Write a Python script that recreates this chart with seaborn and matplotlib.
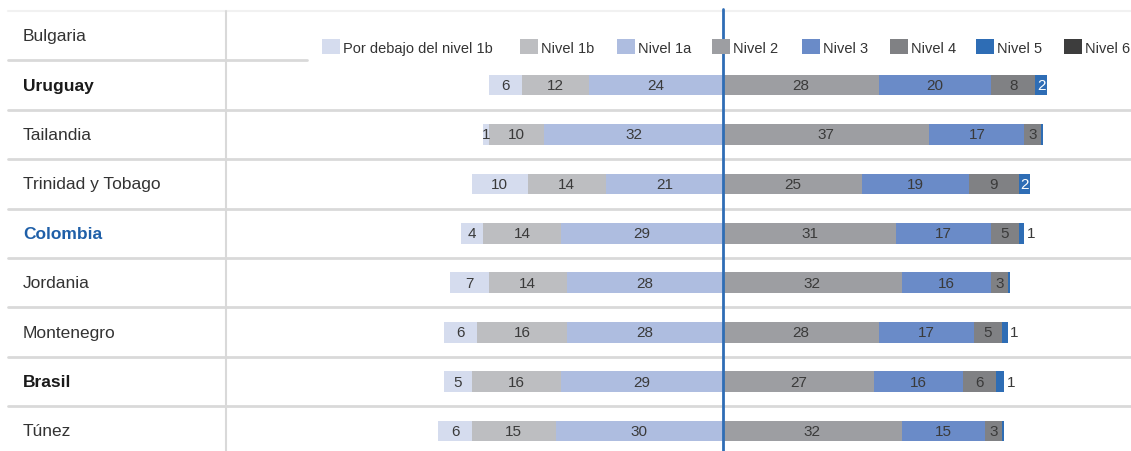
import matplotlib
matplotlib.use("Agg")
import matplotlib.pyplot as plt
from matplotlib import font_manager
from matplotlib.patches import Rectangle
from matplotlib.transforms import blended_transform_factory
import seaborn as sns
import pandas as pd
import numpy as np

countries = ["Bulgaria", "Uruguay", "Tailandia", "Trinidad y Tobago", "Colombia",
             "Jordania", "Montenegro", "Brasil", "Túnez"]
data_countries = countries[1:]
below_1b = [6, 1, 10, 4, 7, 6, 5, 6]
nivel_1b = [12, 10, 14, 14, 14, 16, 16, 15]
nivel_1a = [24, 32, 21, 29, 28, 28, 29, 30]
nivel_2 = [28, 37, 25, 31, 32, 28, 27, 32]
nivel_3 = [20, 17, 19, 17, 16, 17, 16, 15]
nivel_4 = [8, 3, 9, 5, 3, 5, 6, 3]
nivel_5 = [2, 0.4, 2, 1, 0.4, 1, 1.4, 0.4]
nivel_6 = [0, 0, 0, 0, 0, 0, 0, 0]
legend_labels = ["Por debajo del nivel 1b", "Nivel 1b", "Nivel 1a", "Nivel 2",
                 "Nivel 3", "Nivel 4", "Nivel 5", "Nivel 6"]
colors = ["#d5dcee", "#bdbec1", "#aebde0", "#9d9ea2", "#6a8bc8", "#808184",
          "#2e6db5", "#3d3d3d"]

avail = {f.name for f in font_manager.fontManager.ttflist}
fam = [f for f in ["Liberation Sans Narrow", "Liberation Sans", "DejaVu Sans"] if f in avail]
sns.set_style("white")
plt.rcParams["font.family"] = fam

W, H = 1131, 452
fig = plt.figure(figsize=(W / 100, H / 100), dpi=100)
ax = fig.add_axes([0, 0, 1, 1])

s = 5.58
cx = 723
xl = (-cx / s, (W - cx) / s)

left_series = [below_1b, nivel_1b, nivel_1a]
right_series = [nivel_2, nivel_3, nivel_4, nivel_5, nivel_6]

# left side: draw cumulative from outermost inward
for k in range(3):
    cum = -np.sum(np.array(left_series[k:]), axis=0)
    df = pd.DataFrame({"country": data_countries, "value": cum})
    sns.barplot(data=df, x="value", y="country", order=countries, orient="h",
                color=colors[k], saturation=1, width=0.42, linewidth=0,
                errorbar=None, ax=ax)
# right side
for k in range(4, -1, -1):
    cum = np.sum(np.array(right_series[:k + 1]), axis=0)
    df = pd.DataFrame({"country": data_countries, "value": cum})
    sns.barplot(data=df, x="value", y="country", order=countries, orient="h",
                color=colors[3 + k], saturation=1, width=0.42, linewidth=0,
                errorbar=None, ax=ax)

ax.set_xlim(*xl)
ax.set_ylim(8.405, -0.741)
ax.axis("off")

txtc = "#3a3a3a"
fs_num = 11
for i, c in enumerate(data_countries):
    y = i + 1
    a, b, d = below_1b[i], nivel_1b[i], nivel_1a[i]
    ax.text(-d / 2, y, f"{d:g}", ha="center", va="center", fontsize=fs_num, color=txtc)
    ax.text(-(d + b / 2), y, f"{b:g}", ha="center", va="center", fontsize=fs_num, color=txtc)
    ax.text(-(d + b + a / 2), y, f"{a:g}", ha="center", va="center", fontsize=fs_num, color=txtc)
    pos = 0
    for v in [nivel_2[i], nivel_3[i], nivel_4[i]]:
        ax.text(pos + v / 2, y, f"{v:g}", ha="center", va="center", fontsize=fs_num, color=txtc)
        pos += v
    v5 = nivel_5[i]
    if v5 >= 2:
        ax.text(pos + v5 / 2, y, f"{v5:g}", ha="center", va="center", fontsize=fs_num, color="white")
    elif v5 >= 1:
        ax.text(pos + v5 + 0.4, y, "1", ha="left", va="center", fontsize=fs_num, color=txtc)

# grid separators
sep = "#d9d9d9"
x0 = 8 / W
ax.axhline(-0.5, xmin=x0, xmax=1, color="#f1f1f1", lw=1.5, zorder=0)
ax.axhline(0.5, xmin=x0, xmax=307 / W, color=sep, lw=2, zorder=0)
for yy in np.arange(1.5, 8, 1):
    ax.axhline(yy, xmin=x0, xmax=1, color=sep, lw=2, zorder=0)
bt = blended_transform_factory(fig.transFigure, ax.transData)
ax.plot([226 / W, 226 / W], [-0.5, 8.405], transform=bt, color=sep, lw=1.5, zorder=0)
ax.axvline(0, ymin=0, ymax=1 - 10 / H, color="#2f6db5", lw=2, zorder=5)

# country labels
for i, c in enumerate(countries):
    weight = "bold" if c in ("Uruguay", "Colombia", "Brasil") else "normal"
    col = "#1f5fa8" if c == "Colombia" else ("#1a1a1a" if weight == "bold" else "#333333")
    ax.text(23 / W, i, c, transform=bt, ha="left", va="center", fontsize=12.5,
            color=col, fontweight=weight)

# legend: one entry per legend object so each square sits where the reference has it
leg_x = [322, 520, 617, 712, 802, 890, 976, 1064]
for lx, c, lab in zip(leg_x, colors, legend_labels):
    h = Rectangle((0, 0), 1, 1, facecolor=c, edgecolor="none")
    fig.legend([h], [lab], loc="center left",
               bbox_to_anchor=(lx / W, 1 - 48 / H), frameon=False, fontsize=10.5,
               handlelength=1.2, handleheight=1.2, handletextpad=0.25,
               borderpad=0, borderaxespad=0, labelcolor="#333333")

fig.savefig("out.png", dpi=100, facecolor="white")
